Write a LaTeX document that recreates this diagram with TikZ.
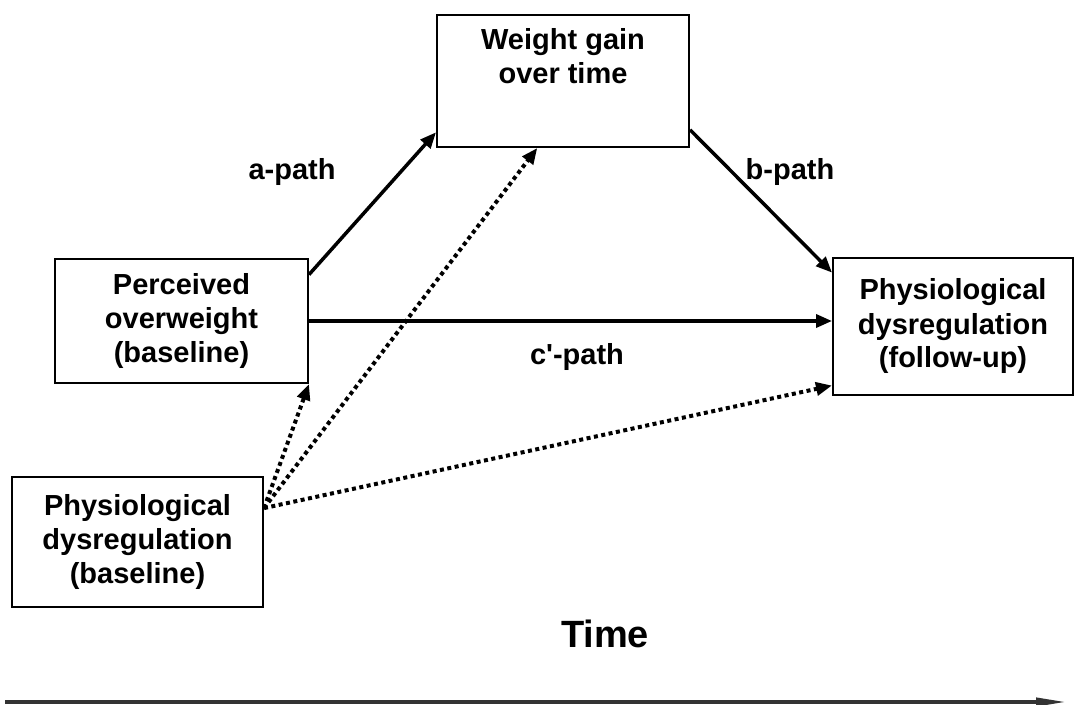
\documentclass[tikz,border=0pt]{standalone}
\usepackage{fontspec}
\setmainfont{Liberation Sans}
\usetikzlibrary{arrows.meta}
\usetikzlibrary{positioning}

\begin{document}
\begin{tikzpicture}[x=0.5pt,y=-0.5pt]
  \tikzset{box/.style = {draw, line width=1pt, inner sep=0pt, align=center,
      font=\bfseries\fontsize{14.5}{17}\selectfont}}
  \tikzset{lbl/.style = {inner sep=0pt, align=center,
      font=\bfseries\fontsize{14.5}{17}\selectfont}}
  \tikzset{line/.style = {draw, line width=1.75pt, -{Triangle[length=8pt,width=6.5pt]}}}
  \tikzset{dotline/.style = {line, line width=2pt, dash pattern=on 2pt off 1.75pt}}

  \useasboundingbox (0,0) rectangle (1074,705);

  %%%%%%%%%%%% boxes

  \node[box, minimum width=126pt, minimum height=66pt] (gain) at (563,81) {};
  \node[lbl, below=7pt of gain.north, anchor=north] (gaintext) {Weight gain\\over time};

  \node[box, minimum width=126.5pt, minimum height=62pt] (over) at (181.5,321)
  {Perceived\\overweight\\(baseline)};

  \node[box, minimum width=120pt, minimum height=68.5pt] (follow) at (953,326.5)
  {Physiological\\dysregulation\\(follow-up)};

  \node[box, minimum width=125.5pt, minimum height=65pt] (base) at (137.5,542)
  {Physiological\\dysregulation\\(baseline)};

  %%%%%%%%%%%% paths

  \path[line] (over.20) -- (gain.202);
  \path[line] (gain.339) -- (follow.156);
  \path[line] (over.east) -- (over.east -| follow.west);

  \node[lbl] (apath) at (292,172) {a-path};
  \node[lbl] (bpath) at (790,172) {b-path};
  \node[lbl] (cpath) at (577,357) {c\textquotesingle-path};

  %%%%%%%%%%%% baseline control

  \path[dotline] (base.15) -- (over.south east);
  \path[dotline] (base.15) -- (gain.249);
  \path[dotline] (base.15) -- (follow.206);

  %%%%%%%%%%%% time axis

  \node[font=\bfseries\fontsize{19}{23}\selectfont, inner sep=0pt] (time) at (605,634) {Time};
  \coordinate (tstart) at (5,702);
  \coordinate (tend) at (1068,702);
  \draw[line width=2pt, black!80, -{Triangle[length=16pt,width=4pt]}] (tstart) -- (tend);

\end{tikzpicture}
\end{document}
